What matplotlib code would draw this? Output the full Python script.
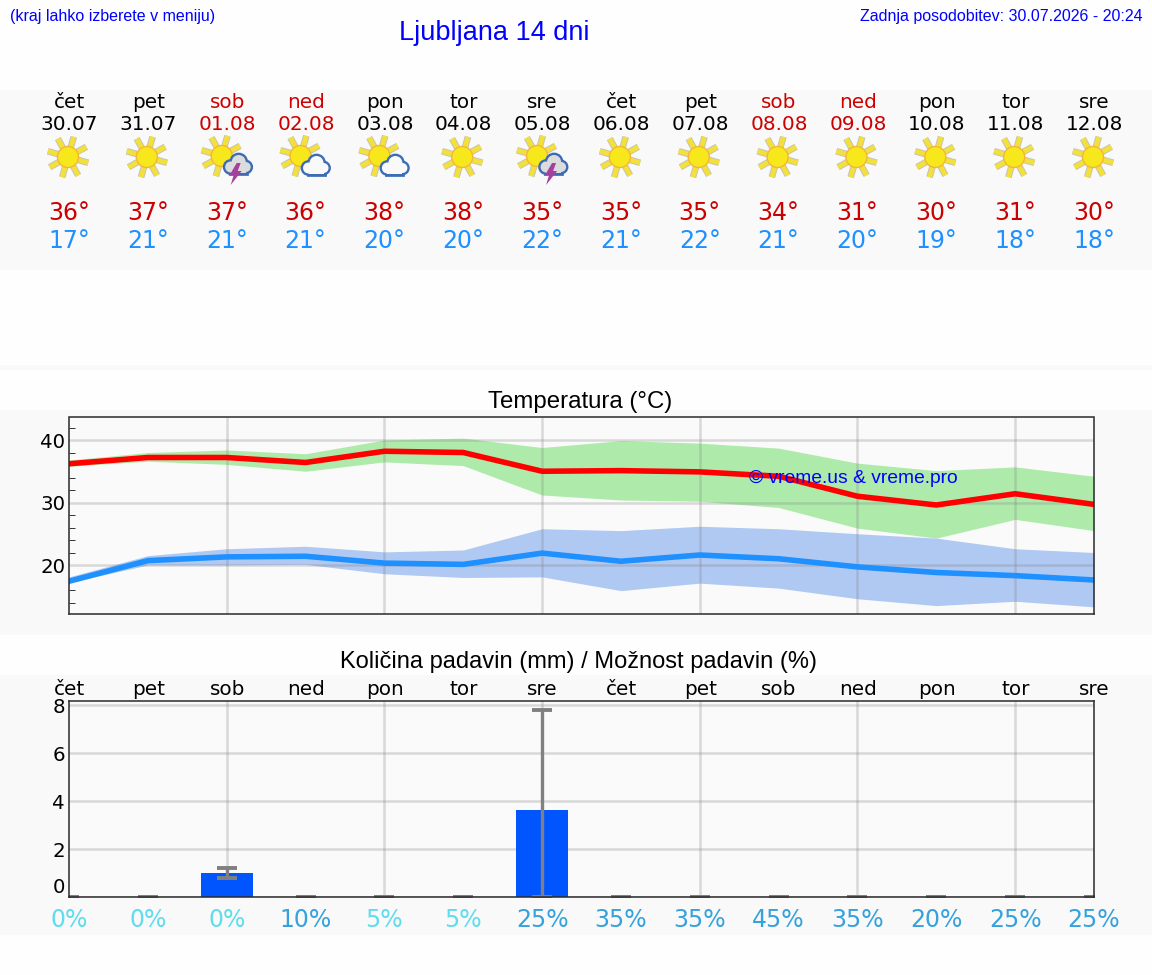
import numpy as np
import matplotlib
matplotlib.use('Agg')
import matplotlib.pyplot as plt
from matplotlib.patches import Rectangle, Circle, Polygon

W, H = 1152, 975

dni = ['čet', 'pet', 'sob', 'ned', 'pon', 'tor', 'sre', 'čet', 'pet', 'sob', 'ned', 'pon', 'tor', 'sre']
datumi = ['30.07', '31.07', '01.08', '02.08', '03.08', '04.08', '05.08',
          '06.08', '07.08', '08.08', '09.08', '10.08', '11.08', '12.08']
vikend = [2, 3, 9, 10]
ikone = ['sun', 'sun', 'storm', 'cloud', 'cloud', 'sun', 'storm',
         'sun', 'sun', 'sun', 'sun', 'sun', 'sun', 'sun']
max_txt = [36, 37, 37, 36, 38, 38, 35, 35, 35, 34, 31, 30, 31, 30]
min_txt = [17, 21, 21, 21, 20, 20, 22, 21, 22, 21, 20, 19, 18, 18]

tmax = [36.2, 37.2, 37.2, 36.4, 38.2, 38.0, 35.0, 35.1, 34.9, 34.2, 31.0, 29.6, 31.4, 29.7]
tmax_hi = [36.8, 38.0, 38.4, 37.8, 40.0, 40.3, 38.8, 39.9, 39.5, 38.7, 36.3, 35.1, 35.7, 34.2]
tmax_lo = [35.8, 36.6, 36.1, 35.0, 36.5, 35.9, 31.2, 30.4, 30.2, 29.2, 25.9, 24.3, 27.3, 25.5]
tmin = [17.4, 20.7, 21.3, 21.4, 20.3, 20.1, 21.9, 20.6, 21.6, 21.0, 19.7, 18.8, 18.3, 17.6]
tmin_hi = [18.1, 21.5, 22.6, 23.0, 22.1, 22.4, 25.8, 25.5, 26.2, 25.8, 25.0, 24.3, 22.6, 22.0]
tmin_lo = [17.2, 20.0, 20.0, 20.1, 18.6, 18.0, 18.1, 15.9, 17.1, 16.3, 14.6, 13.5, 14.2, 13.3]

padavine = [0, 0, 1.0, 0, 0, 0, 3.63, 0, 0, 0, 0, 0, 0, 0]
pad_lo = [0, 0, 0.78, 0, 0, 0, 0, 0, 0, 0, 0, 0, 0, 0]
pad_hi = [0, 0, 1.2, 0, 0, 0, 7.78, 0, 0, 0, 0, 0, 0, 0]
moznost = [0, 0, 0, 10, 5, 5, 25, 35, 35, 45, 35, 20, 25, 25]

grid_x = [2, 4, 6, 8, 10, 12]

x = np.arange(len(dni))
X0, X1 = 69, 1094
korak = (X1 - X0) / 13.0

BOLD_BLUE = '#0000ff'
RED_TXT = '#cc0000'
LOW_TXT = '#1e90ff'
GRID = '#808080'


def axes_px(left, top, right, bottom):
    return fig.add_axes([left / W, 1 - bottom / H, (right - left) / W, (bottom - top) / H])


def sonce(a, cx, cy):
    for kot in np.radians(29 + 45 * np.arange(8)):
        xs = [cx + 10 * np.cos(kot), cx + 21 * np.cos(kot)]
        ys = [cy - 10 * np.sin(kot), cy - 21 * np.sin(kot)]
        a.plot(xs, ys, color='#c4c4b8', lw=4.8, solid_capstyle='butt', zorder=2)
        a.plot(xs, ys, color='#f3e03a', lw=3.4, solid_capstyle='butt', zorder=3)
    a.add_patch(Circle((cx, cy), 10.5, fc='#f7e81c', ec='#f5b53a', lw=1.0, zorder=4))


def oblak(a, cx, cy, barva):
    # robovi krogov najprej, polnilo cez njih, da ostane samo zunanji obris
    krogi = [(cx - 7, cy + 3, 5.5), (cx + 1, cy - 2, 7), (cx + 8, cy + 3, 5)]
    for kx, ky, r in krogi:
        a.add_patch(Circle((kx, ky), r, fc='#3c6db4', ec='#3c6db4', lw=3.4, zorder=5))
    a.add_patch(Rectangle((cx - 7, cy + 1), 15, 7.5, fc='#3c6db4', ec='#3c6db4', lw=3.4, zorder=5))
    for kx, ky, r in krogi:
        a.add_patch(Circle((kx, ky), r, fc=barva, ec='none', zorder=6))
    a.add_patch(Rectangle((cx - 7, cy + 1), 15, 7.5, fc=barva, ec='none', zorder=6))


def strela(a, cx, cy):
    a.add_patch(Polygon([(cx + 2, cy - 5), (cx + 6, cy - 5), (cx + 3, cy + 3), (cx + 7, cy + 3),
                         (cx - 4, cy + 17), (cx - 1, cy + 7), (cx - 5, cy + 7)],
                        fc='#a5409f', ec='none', zorder=7))


plt.rcParams['font.family'] = ['DejaVu Sans']
fig = plt.figure(figsize=(W / 100, H / 100), dpi=100, facecolor='#fefefe')

# ozadje, glava in ikone so v eni osi v pikslih
bg = fig.add_axes([0, 0, 1, 1], zorder=-1)
bg.set_xlim(0, W)
bg.set_ylim(H, 0)
bg.axis('off')
for y0, y1 in [(90, 270), (365, 370), (410, 635), (675, 935)]:
    bg.add_patch(Rectangle((0, y0), W, y1 - y0, fc='#f9f9f9', ec='none', zorder=0))

bg.text(10, 17, '(kraj lahko izberete v meniju)', color=BOLD_BLUE, family='Liberation Sans',
        fontsize=11.5, ha='left', va='center')
bg.text(494, 33, 'Ljubljana 14 dni', color=BOLD_BLUE, family='Liberation Sans',
        fontsize=19.5, ha='center', va='center')
bg.text(1143, 17, 'Zadnja posodobitev: 30.07.2026 - 20:24', color=BOLD_BLUE, family='Liberation Sans',
        fontsize=11.5, ha='right', va='center')
bg.text(580, 402, 'Temperatura (°C)', color='black', family='Liberation Sans',
        fontsize=17.3, ha='center', va='center')
bg.text(578, 662, 'Količina padavin (mm) / Možnost padavin (%)', color='black', family='Liberation Sans',
        fontsize=17.05, ha='center', va='center')

for i in x:
    px = X0 + i * korak
    barva = RED_TXT if i in vikend else 'black'
    bg.text(px + 0.5, 102, dni[i], color=barva, fontsize=14.4, ha='center', va='center')
    bg.text(px + 0.5, 124, datumi[i], color=barva, fontsize=14.4, ha='center', va='center')
    bg.text(px, 213, '%d°' % max_txt[i], color=RED_TXT, fontsize=17, ha='center', va='center')
    bg.text(px, 241, '%d°' % min_txt[i], color=LOW_TXT, fontsize=17, ha='center', va='center')
    if ikone[i] == 'sun':
        sonce(bg, px - 1, 157)
    else:
        sonce(bg, px - 5, 156)
        if ikone[i] == 'storm':
            oblak(bg, px + 11, 164, '#dcdcdc')
            strela(bg, px + 8, 168)
        else:
            oblak(bg, px + 10, 165, '#f9f9f9')

# temperatura
ax1 = axes_px(X0, 417.5, X1, 614)
ax1.set_facecolor('#fafafa')
ax1.fill_between(x, tmax_lo, tmax_hi, color='#aeebab', lw=0, zorder=1)
ax1.fill_between(x, tmin_lo, tmin_hi, color='#b0c9f3', lw=0, zorder=1)
ax1.plot(x, tmax, color='#ff0000', lw=4.0, zorder=3, solid_joinstyle='miter')
ax1.plot(x, tmin, color='#1e90ff', lw=4.0, zorder=3, solid_joinstyle='miter')
ax1.set_xlim(0, 13)
ax1.set_ylim(12.16, 43.6)
ax1.set_xticks(grid_x)
ax1.set_xticklabels([])
ax1.set_yticks([20, 30, 40])
ax1.set_yticks(np.arange(14, 44, 2), minor=True)
ax1.tick_params(axis='x', length=0)
ax1.tick_params(axis='y', which='major', length=0, labelsize=14.2, pad=2.8)
ax1.tick_params(axis='y', which='minor', direction='in', length=4, width=0.7, color='#333333')
ax1.set_axisbelow(False)
ax1.grid(True, which='major', color=GRID, alpha=0.28, lw=1.8)
ax1.text(9.95, 33.9, '© vreme.us & vreme.pro', color=BOLD_BLUE, family='Liberation Sans',
         fontsize=13.9, ha='center', va='center', zorder=6)

# padavine
ax2 = axes_px(X0, 700.7, X1, 897)
ax2.set_facecolor('#fafafa')
ax2.bar(x, padavine, width=0.66, color='#0055ff', zorder=3)
spodaj = np.array(padavine) - np.array(pad_lo)
zgoraj = np.array(pad_hi) - np.array(padavine)
ax2.errorbar(x, padavine, yerr=[spodaj, zgoraj], fmt='none', ecolor='#808080', elinewidth=2.4,
             capsize=7.5, capthick=2.8, zorder=4)
ax2.set_xlim(0, 13)
ax2.set_ylim(0, 8.18)
ax2.set_xticks(grid_x)
ax2.set_xticklabels([])
ax2.set_yticks([0, 2, 4, 6, 8])
ax2.tick_params(axis='x', length=0)
ax2.tick_params(axis='y', length=0, labelsize=14.2, pad=2.8)
ax2.get_yticklabels()[0].set_verticalalignment('bottom')
ax2.set_axisbelow(False)
ax2.grid(True, color=GRID, alpha=0.28, lw=1.8)
for i in x:
    ax2.text(i + 0.006, 1.058, dni[i], transform=ax2.get_xaxis_transform(), fontsize=14.4,
             ha='center', va='center', color='black', clip_on=False)
    barva = '#5fdcee' if moznost[i] < 10 else '#35a2dd'
    ax2.text(i, -0.118, '%d%%' % moznost[i], transform=ax2.get_xaxis_transform(), fontsize=17,
             ha='center', va='center', color=barva, clip_on=False)

for a in (ax1, ax2):
    for s in a.spines.values():
        s.set_color('#2a2a2a')
        s.set_linewidth(1.1)
        s.set_zorder(5)

plt.savefig('out.png', dpi=100, facecolor=fig.get_facecolor())
